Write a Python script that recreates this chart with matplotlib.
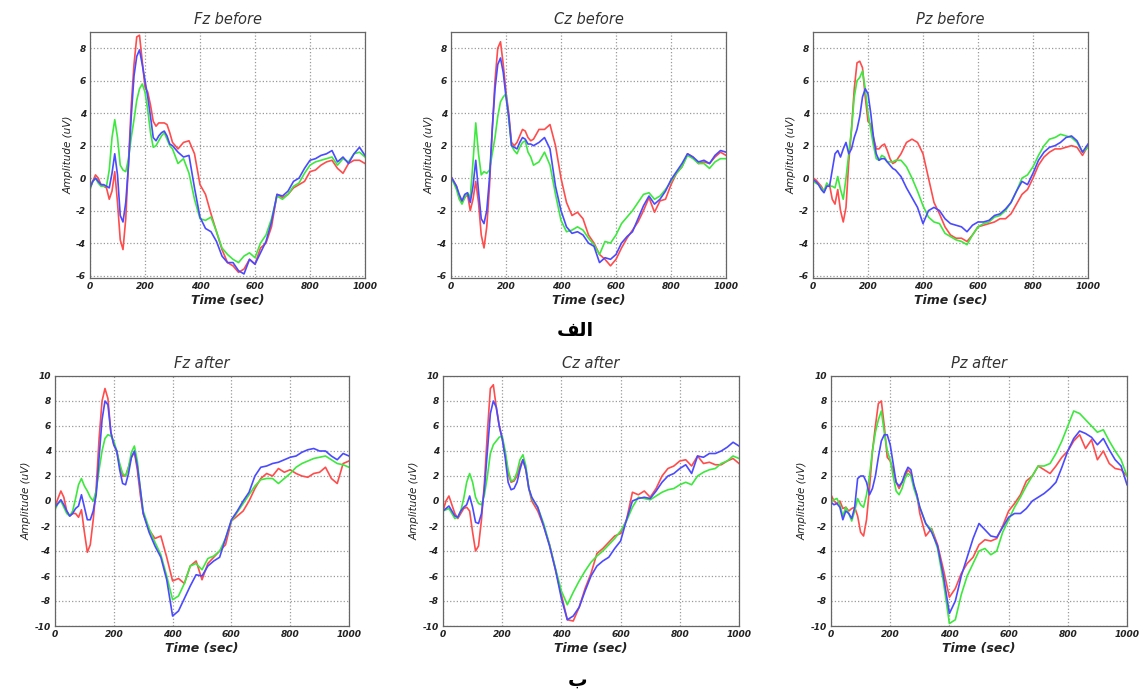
import numpy as np
import matplotlib.pyplot as plt

plt.rcParams['axes.unicode_minus'] = False

# time axis (ms): 10 ms steps up to 300, then 20 ms steps
t = np.concatenate([np.arange(0, 301, 10), np.arange(320, 1001, 20)])

# ---- before ----
fz_before_red = [-0.6, -0.2, 0.2, 0.0, -0.4, -0.5, -0.6, -1.3, -0.8, 0.4, -1.5, -3.8, -4.4, -2.5, 1.0, 4.5,
                 7.0, 8.7, 8.8, 7.2, 5.6, 5.3, 4.5, 3.5, 3.2, 3.4, 3.4, 3.4, 3.3, 2.8, 2.2,
                 1.8, 2.2, 2.3, 1.5, -0.4, -1.0, -2.2, -3.3, -4.4, -5.2, -5.4, -5.8, -5.6, -5.0, -5.3, -4.3,
                 -4.0, -3.0, -1.0, -1.2, -1.0, -0.6, -0.4, -0.2, 0.4, 0.5, 0.8, 1.0, 1.1, 0.6, 0.3, 0.9,
                 1.1, 1.1, 0.9]
fz_before_green = [-0.7, -0.2, 0.0, -0.3, -0.5, -0.5, -0.5, 0.5, 2.5, 3.6, 2.5, 0.8, 0.5, 0.4, 1.2, 2.5,
                   3.6, 4.8, 5.5, 5.8, 5.3, 4.2, 2.8, 1.9, 2.0, 2.3, 2.6, 2.8, 2.4, 2.0, 1.8,
                   0.9, 1.2, 0.3, -1.3, -2.5, -2.6, -2.4, -3.3, -4.3, -4.7, -5.0, -5.2, -4.8, -4.6, -4.9, -4.0,
                   -3.5, -2.5, -1.1, -1.3, -1.0, -0.5, -0.3, 0.3, 0.8, 1.0, 1.1, 1.2, 1.3, 0.8, 1.2, 1.0,
                   1.5, 1.6, 1.3]
fz_before_blue = [-0.6, -0.2, 0.0, -0.2, -0.4, -0.4, -0.5, -0.6, 0.3, 1.5, 0.2, -2.3, -2.7, -1.5, 0.8, 3.8,
                  6.3, 7.5, 7.9, 7.0, 6.0, 5.0, 3.8, 2.5, 2.3, 2.6, 2.8, 2.9, 2.6, 2.1, 2.0,
                  1.6, 1.3, 1.4, -0.6, -2.4, -3.1, -3.3, -3.9, -4.8, -5.2, -5.2, -5.7, -5.9, -5.0, -5.3, -4.6,
                  -3.9, -2.7, -1.0, -1.1, -0.8, -0.2, 0.0, 0.6, 1.1, 1.2, 1.4, 1.5, 1.7, 1.0, 1.3, 0.9,
                  1.5, 1.9, 1.4]

cz_before_red = [0.1, -0.2, -0.5, -1.2, -1.5, -1.2, -1.0, -2.0, -1.3, -0.2, -1.5, -3.5, -4.3, -3.0, -0.5, 3.0,
                 6.0, 8.0, 8.4, 7.0, 5.3, 4.0, 2.2, 2.0, 2.2, 2.6, 3.0, 2.9, 2.5, 2.3, 2.4,
                 3.0, 3.0, 3.3, 2.0, 0.0, -1.5, -2.3, -2.1, -2.5, -3.5, -4.0, -4.7, -5.0, -5.4, -5.0, -4.3,
                 -3.7, -3.2, -2.7, -2.0, -1.2, -2.1, -1.4, -1.3, -0.4, 0.3, 0.7, 1.5, 1.3, 0.9, 1.0, 0.9,
                 1.3, 1.6, 1.4]
cz_before_green = [0.0, -0.3, -0.7, -1.3, -1.6, -1.2, -0.9, -1.2, 1.0, 3.4, 1.5, 0.2, 0.4, 0.3, 0.5, 1.5,
                   2.5, 3.8, 4.7, 5.0, 5.2, 3.6, 2.0, 1.7, 1.5, 1.9, 2.2, 2.3, 1.6, 1.3, 0.8,
                   1.0, 1.6, 0.8, -1.0, -2.6, -3.3, -3.2, -3.0, -3.2, -3.7, -4.1, -4.7, -3.9, -4.0, -3.5, -2.8,
                   -2.4, -2.0, -1.5, -1.0, -0.9, -1.3, -1.1, -0.7, -0.2, 0.3, 0.7, 1.4, 1.2, 0.9, 0.9, 0.6,
                   1.0, 1.2, 1.2]
cz_before_blue = [0.1, -0.2, -0.5, -1.0, -1.4, -1.0, -0.9, -1.5, -0.5, 1.1, -0.8, -2.5, -2.8, -2.0, 0.0, 3.0,
                  5.5, 7.0, 7.4, 6.5, 5.0, 3.8, 2.0, 1.9, 1.8, 2.2, 2.5, 2.4, 2.1, 2.1, 2.0,
                  2.2, 2.5, 1.8, -0.5, -2.0, -3.0, -3.4, -3.3, -3.5, -4.0, -4.2, -5.2, -4.9, -5.0, -4.7, -4.0,
                  -3.6, -3.3, -2.5, -1.7, -1.1, -1.6, -1.3, -0.8, -0.1, 0.4, 0.9, 1.5, 1.3, 1.0, 1.1, 0.9,
                  1.4, 1.7, 1.6]

pz_before_red = [0.0, -0.1, -0.3, -0.5, -0.8, -0.5, -0.4, -1.3, -1.6, -0.7, -2.0, -2.7, -1.8, 1.0, 3.0, 5.5,
                 7.1, 7.2, 6.8, 5.0, 3.5, 3.3, 2.5, 1.8, 1.8, 2.0, 2.1, 1.7, 1.2, 0.9, 1.0,
                 1.5, 2.2, 2.4, 2.2, 1.5, 0.0, -1.5, -2.2, -3.0, -3.5, -3.7, -3.7, -3.9, -3.5, -3.0, -2.9,
                 -2.8, -2.7, -2.5, -2.5, -2.2, -1.6, -1.0, -0.7, 0.0, 0.8, 1.3, 1.6, 1.8, 1.8, 1.9, 2.0,
                 1.9, 1.4, 2.0]
pz_before_green = [-0.2, -0.3, -0.4, -0.6, -0.8, -0.3, -0.5, -0.5, -0.6, 0.1, -0.7, -1.3, 0.0, 1.5, 3.0, 5.0,
                   6.0, 6.2, 6.6, 5.5, 4.0, 3.0, 2.0, 1.2, 1.1, 1.4, 1.3, 1.0, 1.0, 1.0, 1.1,
                   1.1, 0.7, 0.0, -0.8, -1.7, -2.4, -2.7, -2.8, -3.4, -3.6, -3.8, -3.9, -4.1, -3.5, -3.0, -2.8,
                   -2.7, -2.4, -2.3, -2.0, -1.5, -0.8, 0.0, 0.2, 0.7, 1.4, 2.0, 2.4, 2.5, 2.7, 2.6, 2.5,
                   2.2, 1.6, 1.9]
pz_before_blue = [-0.1, -0.2, -0.4, -0.7, -0.9, -0.5, -0.5, 0.5, 1.5, 1.7, 1.3, 1.8, 2.2, 1.5, 1.8, 2.5,
                  3.0, 3.8, 5.0, 5.5, 5.2, 4.0, 2.5, 1.5, 1.1, 1.2, 1.2, 1.0, 0.8, 0.6, 0.5,
                  0.1, -0.6, -1.2, -1.8, -2.8, -2.0, -1.8, -2.0, -2.5, -2.8, -2.9, -3.0, -3.3, -2.9, -2.7, -2.7,
                  -2.6, -2.3, -2.2, -1.9, -1.5, -0.8, -0.2, -0.4, 0.3, 1.1, 1.6, 1.9, 2.0, 2.2, 2.5, 2.6,
                  2.3, 1.6, 2.1]

# ---- after ----
fz_after_red = [-0.5, 0.2, 0.8, 0.3, -0.8, -1.2, -1.0, -1.0, -1.3, -0.7, -2.5, -4.1, -3.5, -1.5, 1.0, 5.0,
                8.0, 9.0, 8.2, 5.5, 4.5, 4.0, 2.8, 2.0, 2.0, 2.7, 3.5, 3.9, 2.5, 0.5, -1.0,
                -2.3, -3.0, -2.8, -4.5, -6.4, -6.2, -6.6, -5.2, -4.8, -6.3, -5.0, -4.5, -4.0, -3.5, -1.6, -1.2,
                -0.8, 0.0, 1.0, 1.8, 2.2, 2.0, 2.6, 2.3, 2.5, 2.2, 2.0, 1.9, 2.2, 2.3, 2.7, 1.8,
                1.4, 3.0, 3.2]
fz_after_green = [-0.7, -0.2, 0.0, -0.5, -1.0, -1.2, -0.8, 0.2, 1.3, 1.8, 1.2, 0.8, 0.3, 0.0, 0.8, 2.5,
                  4.0, 5.0, 5.3, 5.2, 4.8, 4.0, 3.0, 2.2, 2.0, 2.7, 3.9, 4.4, 3.2, 1.0, -0.8,
                  -2.2, -3.3, -4.3, -6.0, -7.9, -7.6, -6.6, -5.2, -5.0, -5.5, -4.6, -4.4, -4.0, -3.0, -1.6, -0.9,
                  -0.2, 0.5, 1.2, 1.7, 1.8, 1.8, 1.4, 1.8, 2.2, 2.7, 3.0, 3.2, 3.4, 3.5, 3.6, 3.3,
                  3.0, 2.9, 2.7]
fz_after_blue = [-0.5, -0.2, 0.1, -0.3, -0.8, -1.2, -1.0, -0.6, -0.4, 0.5, -0.5, -1.5, -1.5, -0.8, 0.5, 3.5,
                 6.5, 8.0, 7.7, 5.5, 4.5, 4.0, 2.5, 1.4, 1.3, 2.2, 3.5, 4.0, 2.8, 1.0, -1.0,
                 -2.5, -3.6, -4.5, -6.3, -9.2, -8.8, -7.8, -6.8, -5.9, -6.0, -5.2, -4.8, -4.5, -3.0, -1.5, -0.8,
                 0.0, 0.7, 2.0, 2.7, 2.8, 3.0, 3.1, 3.3, 3.5, 3.6, 3.9, 4.1, 4.2, 4.0, 4.0, 3.6,
                 3.3, 3.8, 3.6]

cz_after_red = [-0.8, 0.0, 0.4, -0.3, -1.0, -1.4, -1.0, -0.6, -0.5, -0.8, -2.5, -4.0, -3.6, -1.5, 1.5, 5.5,
                9.0, 9.3, 7.5, 6.0, 5.0, 3.8, 2.2, 1.5, 1.6, 2.0, 2.8, 3.3, 2.5, 1.0, 0.0,
                -0.8, -2.0, -3.5, -5.5, -7.5, -9.5, -9.6, -8.5, -7.0, -5.8, -4.2, -3.8, -3.3, -2.8, -2.6, -1.5,
                0.7, 0.5, 0.8, 0.3, 1.0, 2.0, 2.6, 2.8, 3.2, 3.3, 2.8, 3.6, 3.0, 3.1, 2.9, 2.9,
                3.2, 3.4, 3.0]
cz_after_green = [-0.8, -0.7, -0.6, -1.0, -1.4, -1.3, -0.8, 0.2, 1.5, 2.2, 1.5, 0.3, -0.2, -0.3, 0.5, 2.0,
                  3.8, 4.5, 4.8, 5.1, 5.2, 4.0, 2.5, 1.6, 1.7, 2.3, 3.3, 3.7, 2.8, 1.0, 0.2,
                  -0.5, -1.8, -3.5, -5.4, -7.2, -8.3, -7.3, -6.4, -5.6, -4.9, -4.4, -4.0, -3.5, -3.0, -2.4, -1.6,
                  -0.5, 0.3, 0.2, 0.1, 0.4, 0.7, 0.9, 1.0, 1.3, 1.5, 1.3, 2.0, 2.3, 2.5, 2.6, 3.0,
                  3.2, 3.6, 3.4]
cz_after_blue = [-0.8, -0.6, -0.4, -0.8, -1.2, -1.3, -0.8, -0.5, -0.3, 0.4, -0.5, -1.7, -1.8, -1.0, 1.0, 4.0,
                 7.0, 8.0, 7.5, 6.0, 5.0, 3.5, 1.5, 0.9, 1.0, 1.5, 2.5, 3.3, 2.5, 1.0, 0.3,
                 -0.5, -2.0, -3.6, -5.5, -7.8, -9.5, -9.2, -8.5, -7.2, -6.0, -5.2, -4.8, -4.5, -3.8, -3.2, -1.5,
                 0.0, 0.2, 0.3, 0.2, 0.8, 1.5, 2.0, 2.2, 2.6, 2.9, 2.2, 3.6, 3.5, 3.8, 3.8, 4.0,
                 4.3, 4.7, 4.4]

pz_after_red = [0.5, 0.0, -0.2, 0.0, -0.6, -0.5, -0.8, -0.6, -0.5, -1.2, -2.5, -2.8, -1.5, 1.0, 4.0, 6.0,
                7.8, 8.0, 6.0, 3.5, 3.2, 2.5, 1.5, 1.0, 1.5, 2.0, 2.5, 2.2, 1.2, 0.5, -1.0,
                -2.8, -2.2, -3.5, -5.5, -7.7, -7.0, -5.8, -5.0, -4.5, -3.5, -3.1, -3.2, -3.0, -2.0, -0.8, -0.2,
                0.5, 1.6, 2.0, 2.8, 2.5, 2.2, 2.8, 3.5, 4.0, 4.8, 5.3, 4.2, 4.9, 3.3, 4.0, 3.0,
                2.6, 2.5, 2.0]
pz_after_green = [0.0, 0.1, 0.2, -0.3, -1.2, -0.5, -1.0, -1.6, -0.8, 0.2, -0.3, -0.5, 0.5, 2.0, 4.0, 5.5,
                  6.5, 7.2, 5.5, 4.0, 3.3, 2.0, 0.8, 0.5, 1.0, 1.8, 2.2, 2.0, 1.0, 0.3, -0.5,
                  -1.8, -2.3, -3.8, -6.5, -9.8, -9.5, -7.5, -6.0, -5.0, -4.0, -3.8, -4.3, -4.0, -2.5, -1.5, -0.5,
                  0.3, 1.2, 2.0, 2.8, 2.8, 3.0, 3.8, 4.8, 6.0, 7.2, 7.0, 6.5, 6.0, 5.5, 5.7, 4.8,
                  4.0, 3.3, 2.0]
pz_after_blue = [-0.1, -0.3, -0.2, -0.5, -1.5, -0.8, -1.0, -1.4, -0.5, 1.8, 2.0, 2.0, 1.5, 0.5, 1.0, 2.0,
                 3.5, 4.8, 5.3, 5.3, 4.5, 3.0, 1.5, 1.2, 1.5, 2.2, 2.7, 2.5, 1.3, 0.5, -0.5,
                 -1.8, -2.5, -3.6, -6.0, -9.0, -8.0, -6.0, -4.5, -3.0, -1.8, -2.3, -2.8, -2.9, -2.1, -1.3, -1.0,
                 -1.0, -0.6, 0.0, 0.3, 0.6, 1.0, 1.5, 2.7, 4.0, 5.0, 5.6, 5.4, 5.1, 4.5, 5.0, 4.1,
                 3.3, 2.8, 1.3]

titles = ["Fz before", "Cz before", "Pz before", "Fz after", "Cz after", "Pz after"]
series = [
    (fz_before_red, fz_before_green, fz_before_blue),
    (cz_before_red, cz_before_green, cz_before_blue),
    (pz_before_red, pz_before_green, pz_before_blue),
    (fz_after_red, fz_after_green, fz_after_blue),
    (cz_after_red, cz_after_green, cz_after_blue),
    (pz_after_red, pz_after_green, pz_after_blue),
]

W, H = 1142, 694
# axes boxes in pixels: left, top, width, height
boxes = [(90, 32, 275, 246), (451, 32, 275, 246), (813, 32, 275, 246),
         (55, 376, 294, 250), (443, 376, 296, 250), (831, 376, 296, 250)]

colors = ['#ff4c4c', '#3ee83e', '#4a4aff']

fig = plt.figure(figsize=(W / 100, H / 100), dpi=100)

for i, (title, data, (l, tp, w, h)) in enumerate(zip(titles, series, boxes)):
    ax = fig.add_axes([l / W, 1 - (tp + h) / H, w / W, h / H])
    for y, c in zip(data, colors):
        ax.plot(t, y, color=c, lw=1.2)
    ax.set_xlim(0, 1000)
    ax.set_xticks(np.arange(0, 1001, 200))
    if i < 3:
        ax.set_ylim(-6.15, 9)
        ax.set_yticks(np.arange(-6, 9, 2))
    else:
        ax.set_ylim(-10, 10)
        ax.set_yticks(np.arange(-10, 11, 2))
    ax.grid(True, linestyle=':', color='#999999', lw=0.9)
    for s in ax.spines.values():
        s.set_color('#666666')
        s.set_linewidth(0.9)
    ax.tick_params(length=0, pad=3, labelsize=6.5, colors='#222222')
    for lab in ax.get_xticklabels() + ax.get_yticklabels():
        lab.set_fontstyle('italic')
        lab.set_fontweight('bold')
    ax.set_title(title, fontsize=10.5, style='italic', color='#333333', pad=6)
    ax.set_xlabel("Time (sec)", fontsize=9, style='italic', fontweight='bold',
                  color='#222222', labelpad=2)
    ax.set_ylabel("Amplitude (uV)", fontsize=7.5, style='italic', color='#222222', labelpad=2)

# Arabic panel labels (presentation forms, visual order)
fig.text(575 / W, 1 - 330 / H, "\uFED2\uFEDF\uFE8D", ha='center', va='center',
         fontsize=14, fontweight='bold', family=['DejaVu Sans'])
fig.text(578 / W, 1 - 680 / H, "\uFE8F", ha='center', va='center',
         fontsize=14, fontweight='bold', family=['DejaVu Sans'])

fig.savefig('out.png', dpi=100)
